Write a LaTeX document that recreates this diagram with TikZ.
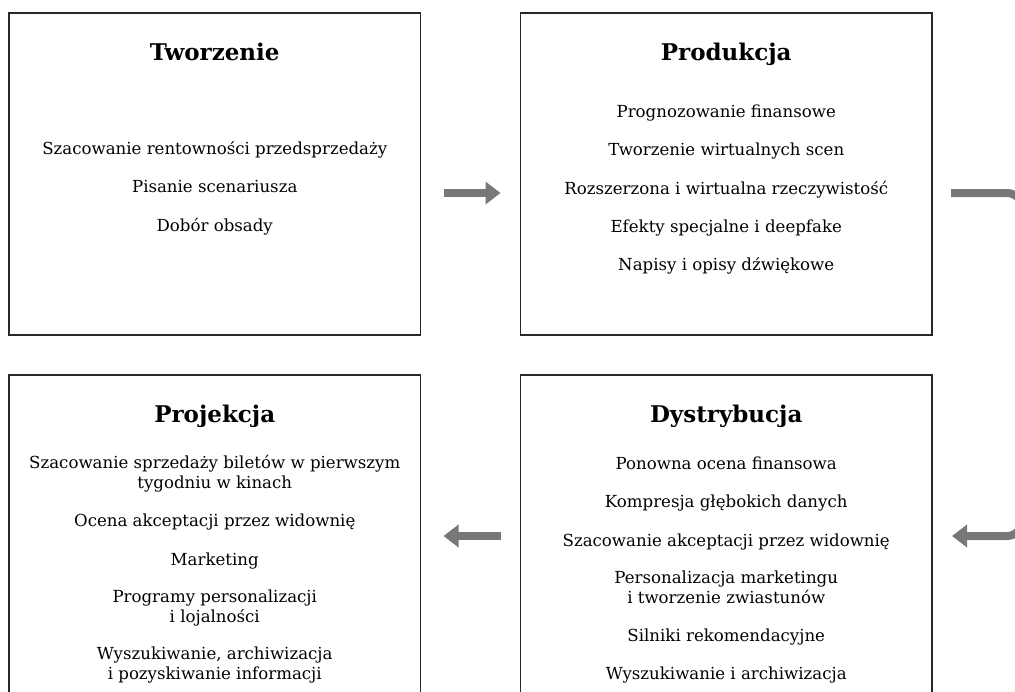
\documentclass[tikz,border=0pt]{standalone}
\usepackage{fontspec}
\setmainfont{DejaVu Serif}
\usepackage{xcolor}
\usetikzlibrary{positioning,arrows.meta}
\definecolor{framegray}{RGB}{40,40,40}
\definecolor{flowgray}{RGB}{120,120,120}

\begin{document}
\begin{tikzpicture}[
    x=1pt, y=-1pt,
    stage/.style={rectangle,draw=framegray,line width=1.6pt,minimum width=411.5pt,minimum height=322pt,inner sep=0pt,outer sep=0pt},
    heading/.style={font=\fontsize{23}{27}\selectfont\bfseries,anchor=base,inner sep=0pt},
    item/.style={font=\fontsize{16.6}{20}\selectfont,align=center,inner sep=0pt,execute at begin node=\strut,execute at end node=\strut},
    flow/.style={draw=flowgray,line width=8pt,-{Triangle[length=15pt,width=22pt]}}
]
\useasboundingbox (0,0) rectangle (1015,691);
\clip (0,0) rectangle (1015,691);

% Boxes
\node[stage] (tworz) at (214.75,174) {};
\node[stage,right=100pt of tworz] (prod) {};
\node[stage,below=40pt of tworz] (proj) {};
\node[stage,right=100pt of proj] (dyst) {};

% Headings
\node[heading] (tworzT) at ([yshift=-47pt]tworz.north) {Tworzenie};
\node[heading] (prodT) at ([yshift=-47pt]prod.north) {Produkcja};
\node[heading] (projT) at ([yshift=-47pt]proj.north) {Projekcja};
\node[heading] (dystT) at ([yshift=-47pt]dyst.north) {Dystrybucja};

% Tworzenie
\node[item,anchor=north] (t1) at ([yshift=-127pt]tworz.north) {Szacowanie rentowności przedsprzedaży};
\node[item,below=18pt of t1] (t2) {Pisanie scenariusza};
\node[item,below=18pt of t2] (t3) {Dobór obsady};

% Produkcja
\node[item,anchor=north] (p1) at ([yshift=-90pt]prod.north) {Prognozowanie finansowe};
\node[item,below=18pt of p1] (p2) {Tworzenie wirtualnych scen};
\node[item,below=18pt of p2] (p3) {Rozszerzona i wirtualna rzeczywistość};
\node[item,below=18pt of p3] (p4) {Efekty specjalne i deepfake};
\node[item,below=18pt of p4] (p5) {Napisy i opisy dźwiękowe};

% Projekcja
\node[item,anchor=north] (r1) at ([yshift=-80pt]proj.north) {Szacowanie sprzedaży biletów w pierwszym\\tygodniu w kinach};
\node[item,below=18pt of r1] (r2) {Ocena akceptacji przez widownię};
\node[item,below=18pt of r2] (r3) {Marketing};
\node[item,below=18pt of r3] (r4) {Programy personalizacji\\i lojalności};
\node[item,below=18pt of r4] (r5) {Wyszukiwanie, archiwizacja\\i pozyskiwanie informacji};

% Dystrybucja
\node[item,anchor=north] (d1) at ([yshift=-80pt]dyst.north) {Ponowna ocena finansowa};
\node[item,below=18pt of d1] (d2) {Kompresja głębokich danych};
\node[item,below=18pt of d2] (d3) {Szacowanie akceptacji przez widownię};
\node[item,below=18pt of d3] (d4) {Personalizacja marketingu\\i tworzenie zwiastunów};
\node[item,below=18pt of d4] (d5) {Silniki rekomendacyjne};
\node[item,below=18pt of d5] (d6) {Wyszukiwanie i archiwizacja};

% Flow between stages
\draw[flow,shorten <=23pt,shorten >=20pt] ([yshift=-19pt]tworz.east) -- ([yshift=-19pt]prod.west);
\draw[flow,rounded corners=15pt] ([xshift=19pt,yshift=-19pt]prod.east) -- ++(71,0) |- ([xshift=20pt]dyst.east);
\draw[flow,shorten <=20pt,shorten >=23pt] (dyst.west) -- (proj.east);

\end{tikzpicture}
\end{document}
